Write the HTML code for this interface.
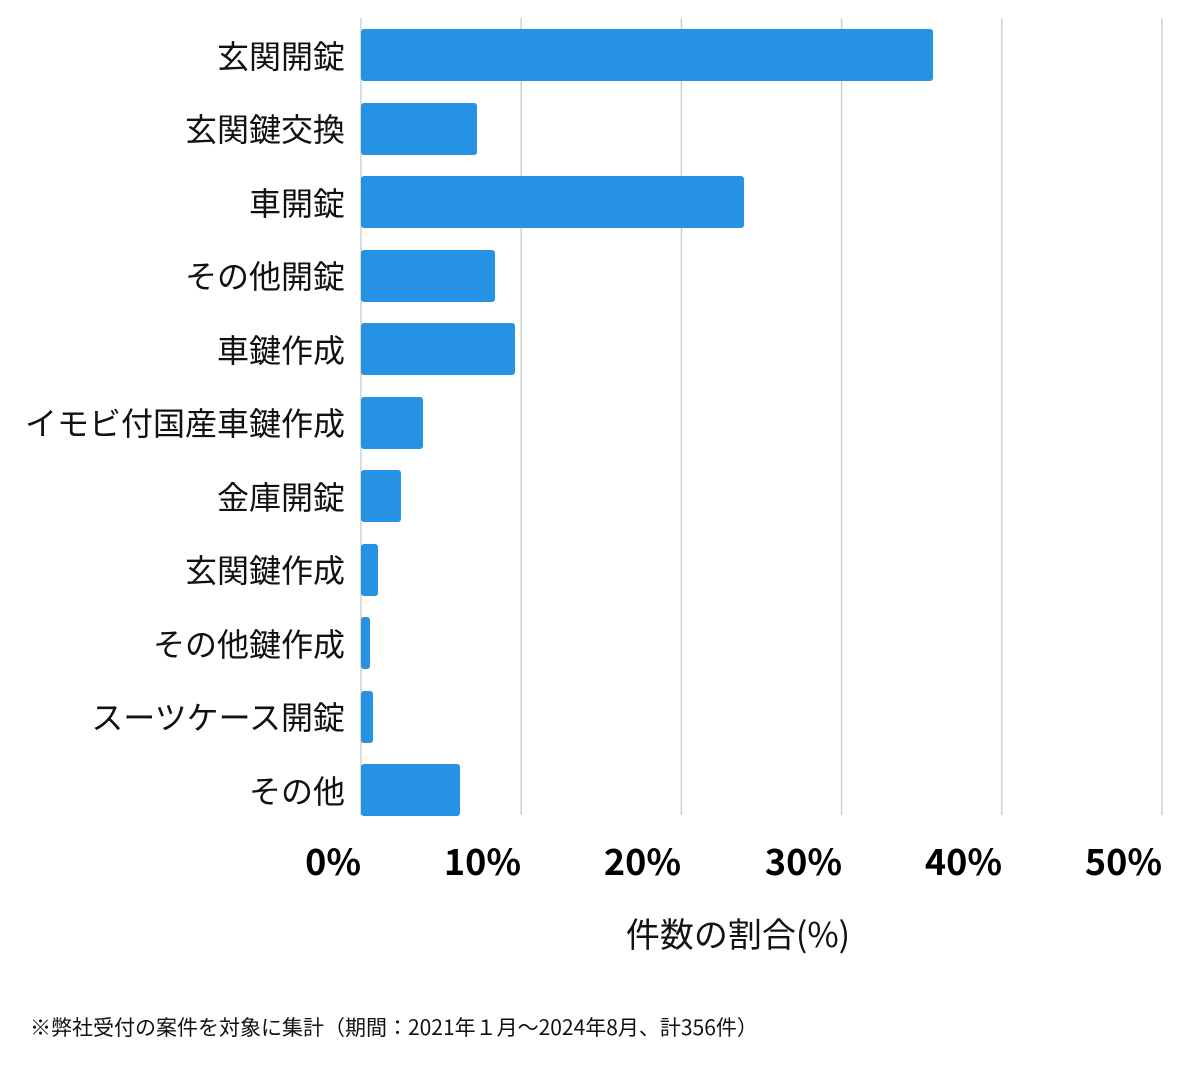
<!DOCTYPE html>
<html><head><meta charset="utf-8"><style>
html,body{margin:0;padding:0;background:#fff;}
svg{display:block;font-family:"Noto Sans CJK JP","Liberation Sans",sans-serif;}
</style></head><body>
<svg width="1200" height="1069" viewBox="0 0 1200 1069" xmlns="http://www.w3.org/2000/svg">
<rect width="1200" height="1069" fill="#fff"/>
<g stroke="#d0d0d0" stroke-width="1.5">
<line x1="361" y1="18" x2="361" y2="815"/>
<line x1="521.2" y1="18" x2="521.2" y2="815"/>
<line x1="681.4" y1="18" x2="681.4" y2="815"/>
<line x1="841.6" y1="18" x2="841.6" y2="815"/>
<line x1="1001.8" y1="18" x2="1001.8" y2="815"/>
<line x1="1162" y1="18" x2="1162" y2="815"/>
</g>
<g fill="#2692e3">
<rect x="361" y="29" width="572" height="52" rx="3"/>
<rect x="361" y="103" width="116" height="52" rx="3"/>
<rect x="361" y="176" width="383" height="52" rx="3"/>
<rect x="361" y="250" width="134" height="52" rx="3"/>
<rect x="361" y="323" width="154" height="52" rx="3"/>
<rect x="361" y="397" width="62" height="52" rx="3"/>
<rect x="361" y="470" width="40" height="52" rx="3"/>
<rect x="361" y="544" width="17" height="52" rx="3"/>
<rect x="361" y="617" width="9" height="52" rx="3"/>
<rect x="361" y="691" width="12" height="52" rx="3"/>
<rect x="361" y="764" width="99" height="52" rx="3"/>
</g>
<g font-size="32" fill="#111" text-anchor="end">
<text x="345" y="68">玄関開錠</text>
<text x="345" y="141">玄関鍵交換</text>
<text x="345" y="215">車開錠</text>
<text x="345" y="288">その他開錠</text>
<text x="345" y="362">車鍵作成</text>
<text x="345" y="435">イモビ付国産車鍵作成</text>
<text x="345" y="509">金庫開錠</text>
<text x="345" y="582">玄関鍵作成</text>
<text x="345" y="656">その他鍵作成</text>
<text x="345" y="729">スーツケース開錠</text>
<text x="345" y="803">その他</text>
</g>
<g font-size="36" font-weight="bold" fill="#000" text-anchor="end">
<text x="361" y="875">0%</text>
<text x="521" y="875">10%</text>
<text x="681" y="875">20%</text>
<text x="842" y="875">30%</text>
<text x="1002" y="875">40%</text>
<text x="1162" y="875">50%</text>
</g>
<text x="738" y="947" font-size="34" fill="#111" text-anchor="middle">件数の割合(%)</text>
<text x="30" y="1035" font-size="21" fill="#111">※弊社受付の案件を対象に集計（期間：2021年１月～2024年8月、計356件）</text>
</svg>
</body></html>
